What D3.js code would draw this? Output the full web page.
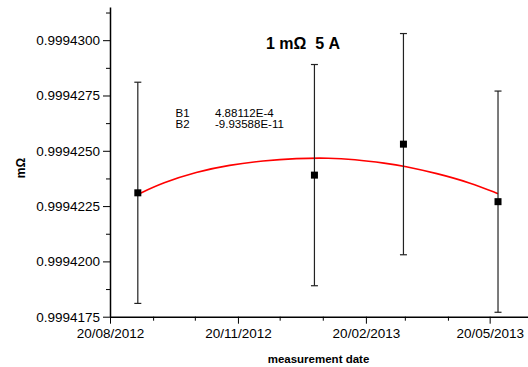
<!DOCTYPE html>
<head>
    <meta charset="utf-8">
    <script src="https://d3js.org/d3.v7.min.js"></script>
</head>
<style>
    body { margin: 0; background: #fff; }
    text { font-family: "Liberation Sans", Arial, sans-serif; fill: #000; }
    .axis path, .axis line { stroke: #000; }
    .axis path { stroke-width: 1.5px; }
    .axis text { font-size: 13.5px; }
</style>
<body>
    <div id="chart"></div>
</body>

<script>
    // measurements (date, value in mOhm, uncertainty)
    const dates  = ["09/09/2012", "14/01/2013", "19/03/2013", "26/05/2013"];
    const values = [0.9994231, 0.9994239, 0.9994253, 0.9994227];
    const errors = [0.0000050, 0.0000050, 0.0000050, 0.0000050];

    // fitted curve
    const fitDates  = ["09/09/2012", "27/09/2012", "21/10/2012", "14/11/2012", "08/12/2012",
                       "01/01/2013", "25/01/2013", "11/02/2013", "07/03/2013", "19/03/2013",
                       "12/04/2013", "06/05/2013", "26/05/2013"];
    const fitValues = [0.99942303, 0.99942356, 0.99942405, 0.99942436, 0.99942455,
                       0.99942466, 0.99942468, 0.99942461, 0.99942443, 0.99942432,
                       0.99942398, 0.99942356, 0.99942306];

    const yMajor = [0.9994175, 0.99942, 0.9994225, 0.999425, 0.9994275, 0.99943];
    const yMinor = [0.99941875, 0.99942125, 0.99942375, 0.99942625, 0.99942875, 0.99943125];
    const xMajor = ["20/08/2012", "20/11/2012", "20/02/2013", "20/05/2013"];
    const xMinor = ["20/09/2012", "20/10/2012", "20/12/2012", "20/01/2013",
                    "20/03/2013", "20/04/2013", "20/06/2013"];
    const xDomain = ["20/08/2012", "18/06/2013"];
    const yDomain = [0.9994175, 0.9994315];

    const fitParams = [["B1", "4.88112E-4"], ["B2", "-9.93588E-11"]];

    const parse = d3.timeParse("%d/%m/%Y");

    const margin = {top: 7, right: -2, bottom: 50.3, left: 110},
        width = 528 - margin.left - margin.right,
        height = 367 - margin.top - margin.bottom;

    const svg = d3.select("#chart")
        .append("svg")
        .attr("width", 528)
        .attr("height", 367)
        .append("g")
        .attr("transform", `translate(${margin.left},${margin.top})`);

    const x = d3.scaleTime()
        .domain(xDomain.map(parse))
        .range([0, width]);

    const y = d3.scaleLinear()
        .domain(yDomain)
        .range([height, 0]);

    // minor ticks
    svg.append("g")
        .attr("class", "axis")
        .attr("transform", `translate(0, ${height})`)
        .call(d3.axisBottom(x).tickValues(xMinor.map(parse)).tickSize(4).tickFormat(""))
        .call(g => g.select(".domain").remove());
    svg.append("g")
        .attr("class", "axis")
        .call(d3.axisLeft(y).tickValues(yMinor).tickSize(4).tickFormat(""))
        .call(g => g.select(".domain").remove());

    // major axes
    svg.append("g")
        .attr("class", "axis")
        .attr("transform", `translate(0, ${height})`)
        .call(d3.axisBottom(x)
            .tickValues(xMajor.map(parse))
            .tickSize(7).tickSizeOuter(0).tickPadding(5)
            .tickFormat(d3.timeFormat("%d/%m/%Y")));
    svg.append("g")
        .attr("class", "axis")
        .call(d3.axisLeft(y)
            .tickValues(yMajor)
            .tickSize(7).tickSizeOuter(0).tickPadding(3)
            .tickFormat(d3.format(".7f")));

    // fit line
    const fit = fitDates.map((d, i) => ({date: parse(d), value: fitValues[i]}));
    svg.append("path")
        .datum(fit)
        .attr("fill", "none")
        .attr("stroke", "#ff0000")
        .attr("stroke-width", 1.6)
        .attr("d", d3.line()
            .x(d => x(d.date))
            .y(d => y(d.value))
            .curve(d3.curveBasis));

    // error bars and points
    const points = dates.map((d, i) => ({date: parse(d), value: values[i], err: errors[i]}));
    const bars = svg.selectAll(".err")
        .data(points)
        .join("g")
        .attr("class", "err")
        .attr("stroke", "#222")
        .attr("stroke-width", 1.2);
    bars.append("line")
        .attr("x1", d => x(d.date)).attr("x2", d => x(d.date))
        .attr("y1", d => y(d.value + d.err)).attr("y2", d => y(d.value - d.err));
    bars.append("line")
        .attr("x1", d => x(d.date) - 3.5).attr("x2", d => x(d.date) + 3.5)
        .attr("y1", d => y(d.value + d.err)).attr("y2", d => y(d.value + d.err));
    bars.append("line")
        .attr("x1", d => x(d.date) - 3.5).attr("x2", d => x(d.date) + 3.5)
        .attr("y1", d => y(d.value - d.err)).attr("y2", d => y(d.value - d.err));

    svg.selectAll(".pt")
        .data(points)
        .join("rect")
        .attr("class", "pt")
        .attr("x", d => x(d.date) - 3.5)
        .attr("y", d => y(d.value) - 3.5)
        .attr("width", 7)
        .attr("height", 7)
        .attr("fill", "#000");

    // title
    svg.append("text")
        .attr("x", 303 - margin.left)
        .attr("y", 49 - margin.top)
        .attr("text-anchor", "middle")
        .style("font-size", "16px")
        .style("font-weight", "bold")
        .style("white-space", "pre")
        .text("1 mΩ  5 A");

    // fit parameters
    fitParams.forEach((p, i) => {
        svg.append("text")
            .attr("x", 175.5 - margin.left)
            .attr("y", 116.5 + i * 11.5 - margin.top)
            .style("font-size", "11.5px")
            .text(p[0]);
        svg.append("text")
            .attr("x", 215 - margin.left)
            .attr("y", 116.5 + i * 11.5 - margin.top)
            .style("font-size", "11.5px")
            .text(p[1]);
    });

    // axis titles
    svg.append("text")
        .attr("x", 318.5 - margin.left)
        .attr("y", 363 - margin.top)
        .attr("text-anchor", "middle")
        .style("font-size", "11.5px")
        .style("font-weight", "bold")
        .text("measurement date");

    svg.append("text")
        .attr("transform", `translate(${25 - margin.left}, ${168 - margin.top}) rotate(-90)`)
        .attr("text-anchor", "middle")
        .style("font-size", "12px")
        .style("font-weight", "bold")
        .text("mΩ");
</script>
